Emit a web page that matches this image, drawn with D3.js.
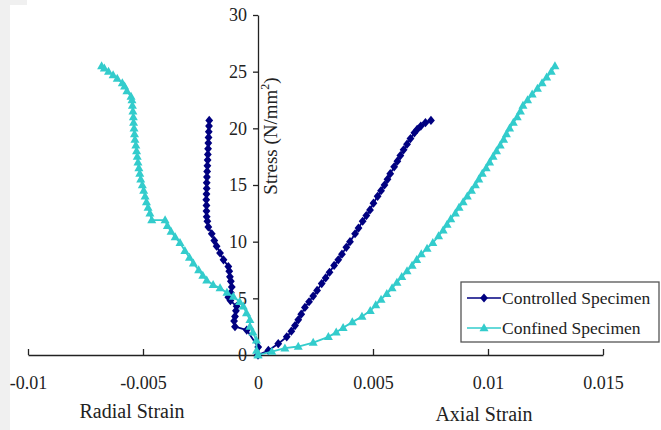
<!DOCTYPE html>
<html>
<head>
<meta charset="utf-8">
<script src="https://cdn.jsdelivr.net/npm/d3@7"></script>
<style>
	body { margin: 0; background: #fff; }
	svg { display: block; font-family: 'Liberation Serif', 'Times New Roman', serif; }
</style>
</head>
<body>
<div id="chart"></div>
<script>
'use strict';

var xTicks = [-0.01, -0.005, 0, 0.005, 0.01, 0.015];
var yTicks = [0, 5, 10, 15, 20, 25, 30];
var seriesNames = ['Controlled Specimen', 'Confined Specimen'];

// controlled specimen, radial branch (negative strain)
var controlledRadialStress = [0, 0.7, 2.2, 2.5, 3.0, 3.4, 3.9, 4.3, 4.8, 5.1, 5.5, 6.0, 6.5, 6.9, 7.4, 7.8, 8.4, 9.0, 9.6, 10.1, 10.7, 11.3, 11.8, 12.2, 12.7, 13.2, 13.7, 14.2, 14.7, 15.2, 15.7, 16.2, 16.7, 17.2, 17.7, 18.2, 18.7, 19.2, 19.7, 20.2, 20.7];
var controlledRadialStrain = [0, 0.00001, -0.00049, -0.00100, -0.00104, -0.00100, -0.00096, -0.00093, -0.00120, -0.00129, -0.00118, -0.00114, -0.00118, -0.00122, -0.00125, -0.00129, -0.00150, -0.00165, -0.00180, -0.00190, -0.00201, -0.00216, -0.00220, -0.00223, -0.00224, -0.00224, -0.00225, -0.00224, -0.00223, -0.00223, -0.00222, -0.00221, -0.00220, -0.00219, -0.00218, -0.00217, -0.00216, -0.00215, -0.00214, -0.00213, -0.00212];

// controlled specimen, axial branch
var controlledAxialStress = [0, 0.4, 1.0, 1.6, 2.1, 2.6, 3.1, 3.6, 4.2, 4.7, 5.2, 5.7, 6.3, 6.8, 7.3, 7.9, 8.4, 8.9, 9.5, 10.0, 10.7, 11.2, 11.8, 12.3, 12.8, 13.4, 14.0, 14.5, 15.0, 15.5, 16.0, 16.6, 17.1, 17.6, 18.1, 18.6, 19.1, 19.6, 19.9, 20.2, 20.5, 20.7];
var controlledAxialStrain = [0, 0.00045, 0.00088, 0.00125, 0.00145, 0.00161, 0.00175, 0.00188, 0.00204, 0.00222, 0.00240, 0.00257, 0.00277, 0.00294, 0.00311, 0.00331, 0.00349, 0.00365, 0.00384, 0.00400, 0.00422, 0.00437, 0.00455, 0.00471, 0.00487, 0.00502, 0.00520, 0.00535, 0.00550, 0.00563, 0.00575, 0.00592, 0.00606, 0.00619, 0.00633, 0.00648, 0.00663, 0.00680, 0.00692, 0.00708, 0.00728, 0.00752];

// confined specimen, radial branch
var confinedRadialStress = [0, 0.4, 1.3, 2.0, 2.5, 3.1, 3.7, 4.3, 4.7, 5.15, 5.5, 5.9, 6.2, 6.6, 7.0, 7.5, 8.1, 8.6, 9.2, 9.9, 10.4, 10.9, 11.4, 11.9, 11.9, 12.5, 13.0, 13.5, 14.0, 14.5, 15.0, 15.5, 16.0, 16.5, 17.0, 17.5, 18.0, 18.5, 19.0, 19.5, 20.0, 20.5, 21.0, 21.5, 22.0, 22.5, 22.8, 23.3, 23.7, 24.0, 24.4, 24.7, 25.0, 25.3, 25.5];
var confinedRadialStrain = [0, -0.00006, -0.00007, -0.00022, -0.00035, -0.00035, -0.00050, -0.00064, -0.00080, -0.00107, -0.00135, -0.00165, -0.00195, -0.00223, -0.00240, -0.00258, -0.00281, -0.00298, -0.00318, -0.00339, -0.00360, -0.00378, -0.00394, -0.00404, -0.00462, -0.00470, -0.00478, -0.00485, -0.00491, -0.00497, -0.00503, -0.00510, -0.00514, -0.00518, -0.00522, -0.00525, -0.00528, -0.00531, -0.00535, -0.00537, -0.00539, -0.00541, -0.00542, -0.00544, -0.00546, -0.00548, -0.00552, -0.00570, -0.00580, -0.00590, -0.00612, -0.00630, -0.00650, -0.00668, -0.00680];

// confined specimen, axial branch
var confinedAxialStress = [0, 0.3, 0.6, 0.75, 1.1, 1.6, 2.0, 2.4, 2.9, 3.4, 3.9, 4.4, 4.9, 5.4, 5.9, 6.4, 6.9, 7.4, 7.9, 8.4, 8.9, 9.4, 9.9, 10.5, 11.0, 11.5, 12.0, 12.5, 13.0, 13.5, 14.0, 14.5, 15.0, 15.5, 16.0, 16.5, 17.0, 17.5, 18.0, 18.5, 19.0, 19.5, 20.0, 20.5, 21.0, 21.5, 22.0, 22.5, 23.0, 23.5, 24.0, 24.5, 25.0, 25.5];
var confinedAxialStrain = [0, 0.00060, 0.00117, 0.00175, 0.00240, 0.00306, 0.00340, 0.00370, 0.00410, 0.00452, 0.00488, 0.00512, 0.00535, 0.00560, 0.00583, 0.00604, 0.00625, 0.00648, 0.00670, 0.00690, 0.00710, 0.00735, 0.00760, 0.00785, 0.00805, 0.00822, 0.00838, 0.00858, 0.00874, 0.00892, 0.00910, 0.00928, 0.00945, 0.00960, 0.00975, 0.00992, 0.01007, 0.01022, 0.01037, 0.01053, 0.01068, 0.01080, 0.01094, 0.01110, 0.01127, 0.01141, 0.01152, 0.01172, 0.01192, 0.01215, 0.01235, 0.01255, 0.01275, 0.01291];


var width = 661;
var height = 430;
var navy = '#000080';
var cyan = '#33cccc';
var ink = '#222';
var serif = "'Liberation Serif', 'Times New Roman', serif";

var diamond = 'M0,-4.6L3.9,0L0,4.6L-3.9,0Z';
var triangle = 'M0,-4.8L4.5,3.2L-4.5,3.2Z';

var svg = d3.select('#chart').append('svg')
	.attr('width', width)
	.attr('height', height);

// light grey strip the scan has on its left side
svg.append('rect').attr('x', 0).attr('y', 0).attr('width', 10).attr('height', height).attr('fill', '#f0f0f0');
svg.append('rect').attr('x', 0).attr('y', 0).attr('width', 27).attr('height', 5).attr('fill', '#f0f0f0');

var x = d3.scaleLinear().domain([-0.01, 0.015]).range([28, 603]);
var y = d3.scaleLinear().domain([0, 30]).range([355, 15]);

var xAxis = svg.append('g')
	.attr('transform', 'translate(0,' + y(0) + ')')
	.call(d3.axisBottom(x).tickValues(xTicks).tickSizeInner(-6).tickSizeOuter(0).tickPadding(21)
		.tickFormat(function(d){ return String(d); }));

var yAxis = svg.append('g')
	.attr('transform', 'translate(' + x(0) + ',0)')
	.call(d3.axisLeft(y).tickValues(yTicks).tickSizeInner(5).tickSizeOuter(0).tickPadding(6));

[xAxis, yAxis].forEach(function(a){
	a.attr('font-family', serif).attr('font-size', 18);
	a.selectAll('path, line').attr('stroke', ink).attr('stroke-width', 1.3);
	a.selectAll('text').attr('fill', ink).attr('font-family', serif).attr('font-size', 18);
});

// axis titles
svg.append('text').attr('x', 132).attr('y', 418).attr('text-anchor', 'middle')
	.attr('font-family', serif).attr('font-size', 20).attr('fill', ink).text('Radial Strain');
svg.append('text').attr('x', 484).attr('y', 421).attr('text-anchor', 'middle')
	.attr('font-family', serif).attr('font-size', 20).attr('fill', ink).text('Axial Strain');

var yTitle = svg.append('text')
	.attr('transform', 'translate(277,136) rotate(-90)')
	.attr('text-anchor', 'middle')
	.attr('font-family', serif).attr('font-size', 19).attr('fill', ink);
yTitle.append('tspan').text('Stress (N/mm');
yTitle.append('tspan').attr('font-size', 12).attr('dy', -8).text('2');
yTitle.append('tspan').attr('dy', 8).text(')');

function pairs(strain, stress){
	return strain.map(function(s, i){ return [s, stress[i]]; });
}

var series = [
	{ name: seriesNames[0], color: navy, marker: diamond, branches: [pairs(controlledRadialStrain, controlledRadialStress), pairs(controlledAxialStrain, controlledAxialStress)] },
	{ name: seriesNames[1], color: cyan, marker: triangle, branches: [pairs(confinedRadialStrain, confinedRadialStress), pairs(confinedAxialStrain, confinedAxialStress)] }
];

var line = d3.line()
	.x(function(d){ return x(d[0]); })
	.y(function(d){ return y(d[1]); });

series.forEach(function(s){
	var g = svg.append('g');
	s.branches.forEach(function(b){
		g.append('path')
			.attr('d', line(b))
			.attr('fill', 'none')
			.attr('stroke', s.color)
			.attr('stroke-width', 1.8);
		g.selectAll(null).data(b).enter().append('path')
			.attr('d', s.marker)
			.attr('transform', function(d){ return 'translate(' + x(d[0]) + ',' + y(d[1]) + ')'; })
			.attr('fill', s.color);
	});
});

// legend
var legend = svg.append('g').attr('transform', 'translate(461,282)');
legend.append('rect')
	.attr('width', 198).attr('height', 60)
	.attr('fill', '#fff').attr('stroke', '#555').attr('stroke-width', 1.3);

series.forEach(function(s, i){
	var row = legend.append('g').attr('transform', 'translate(0,' + (16 + i * 30) + ')');
	row.append('line').attr('x1', 6).attr('x2', 40).attr('stroke', s.color).attr('stroke-width', 1.6);
	row.append('path').attr('d', s.marker).attr('transform', 'translate(23,0)').attr('fill', s.color);
	row.append('text').attr('x', 41).attr('dy', '0.35em').attr('font-family', serif).attr('font-size', 17.5).attr('fill', ink).text(s.name);
});
</script>
</body>
</html>
